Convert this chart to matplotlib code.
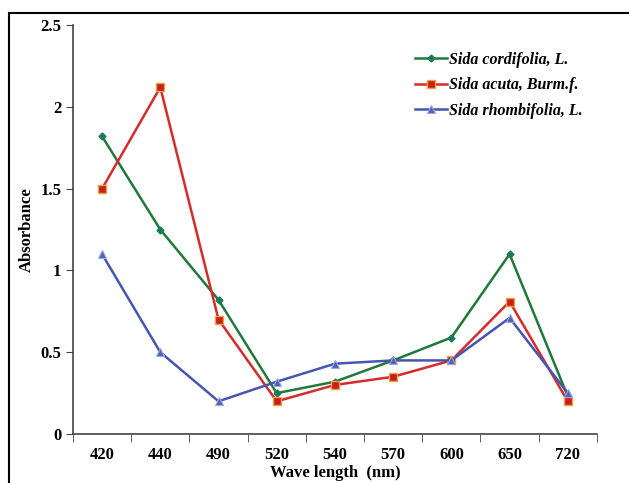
import matplotlib.pyplot as plt
from matplotlib.patches import Rectangle

plt.rcParams['font.family'] = ['Liberation Serif', 'DejaVu Serif']

# Wave length categories (nm)
wavelengths = ['420', '440', '490', '520', '540', '570', '600', '650', '720']

# Absorbance per species
cordifolia = [1.82, 1.25, 0.82, 0.25, 0.32, 0.45, 0.59, 1.10, 0.23]
acuta = [1.50, 2.12, 0.70, 0.20, 0.30, 0.35, 0.45, 0.81, 0.20]
rhombifolia = [1.10, 0.50, 0.20, 0.32, 0.43, 0.45, 0.45, 0.71, 0.25]

yticks = [0, 0.5, 1, 1.5, 2, 2.5]
ytick_labels = ['0', '0.5', '1', '1.5', '2', '2.5']

fig = plt.figure(figsize=(6.29, 4.83), dpi=100)
ax = fig.add_axes([0.116, 0.1014, 0.833, 0.8466])

# outer frame (cut at right and bottom like the source)
fig.patches.append(Rectangle((0.0143, -0.1), 1.2, 1.073, transform=fig.transFigure,
                             fill=False, edgecolor='black', linewidth=1.5))

x = range(len(wavelengths))
ax.plot(x, cordifolia, color='#1f7a3a', lw=1.8, marker='D', ms=3.5,
        mfc='#1a7a5a', mec='#1a7a5a', label='Sida cordifolia, L.')
ax.plot(x, acuta, color='#d62b2b', lw=1.8, marker='s', ms=6,
        mfc='#c81e1e', mec='#f0a040', mew=1, label='Sida acuta, Burm.f.')
ax.plot(x, rhombifolia, color='#4655b0', lw=1.8, marker='^', ms=5.5,
        mfc='#5060c0', mec='#9aa8d8', mew=0.8, label='Sida rhombifolia, L.')

ax.set_xlim(-0.5, len(wavelengths) - 0.5)
ax.set_ylim(0, 2.5)
ax.set_yticks(yticks)
ax.set_yticklabels(ytick_labels, fontsize=12, fontweight='bold')

# category labels at centres, tick marks at boundaries
ax.set_xticks(list(x))
ax.set_xticklabels(wavelengths, fontsize=12, fontweight='bold')
ax.tick_params(axis='x', which='major', length=0, pad=9)
ax.set_xticks([i - 0.5 for i in range(len(wavelengths) + 1)], minor=True)
ax.tick_params(axis='x', which='minor', length=6, direction='out', color='#444444')
ax.tick_params(axis='y', length=5, direction='out', color='#444444')

for side in ['top', 'right']:
    ax.spines[side].set_visible(False)
for side in ['left', 'bottom']:
    ax.spines[side].set_color('#444444')
    ax.spines[side].set_linewidth(1.2)

ax.set_ylabel('Absorbance', fontsize=12, fontweight='bold', labelpad=4)
ax.set_xlabel('Wave length  (nm)', fontsize=12, fontweight='bold', labelpad=2)

ax.legend(loc='upper right', bbox_to_anchor=(1.0, 0.97), frameon=False,
          prop={'family': 'Liberation Serif', 'style': 'italic', 'weight': 'bold', 'size': 11.5},
          handlelength=2.0, handletextpad=0.1, labelspacing=0.6)

fig.savefig('out.png', dpi=100)
